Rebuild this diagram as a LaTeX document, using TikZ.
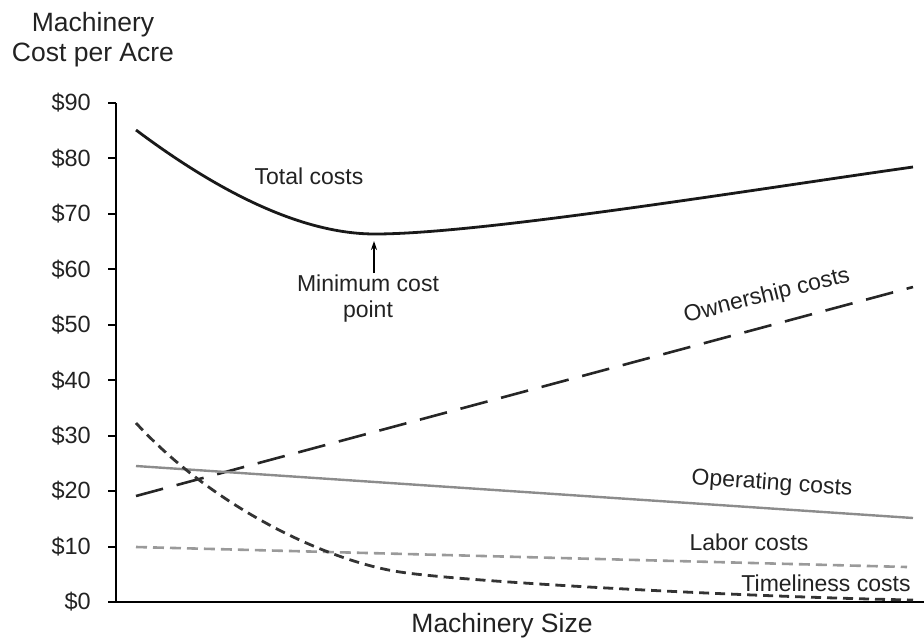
\documentclass[tikz,border=0pt]{standalone}
\usepackage{fontspec}
\setmainfont{Liberation Sans}
\usetikzlibrary{arrows.meta}
\definecolor{txt}{HTML}{222222}
\definecolor{opgray}{HTML}{8C8C8C}
\definecolor{labgray}{HTML}{9A9A9A}
\begin{document}
\begin{tikzpicture}[x=1pt,y=-1pt,
  axis/.style={line width=2pt,color=black},
  tick/.style={line width=2pt,color=black},
  ticklbl/.style={anchor=east,font=\fontsize{23.5}{26}\selectfont,text=txt,inner sep=0pt},
  lbl/.style={font=\fontsize{23}{26}\selectfont,text=txt,inner sep=0pt},
  title/.style={font=\fontsize{26.5}{30}\selectfont,text=txt,inner sep=0pt,align=center},
  curve/.style={line width=2.6pt,color=black!85,line cap=butt},
]
\useasboundingbox (0,0) rectangle (924,638);
% axes
\coordinate (o) at (116,602);
\coordinate (ytop) at (116,103);
\coordinate (xend) at (924,602);
\draw[axis] (ytop) -- (o) -- (xend);
% ticks and labels
\foreach \v [count=\i from 0] in {0,10,20,30,40,50,60,70,80,90} {
  \coordinate (t\i) at (116,{602-55.45*\i});
  \draw[tick] (t\i) -- ++(-8,0);
  \node[ticklbl] (tl\i) at ({91},{602-55.45*\i}) {\$\v};
}
% axis titles
\node[title] (ytitle) at (93,40) {Machinery\\Cost per Acre};
\node[title] (xtitle) at (502,626) {Machinery Size};
% total costs
\draw[curve,line width=2.8pt,black!90] (136,130) .. controls (216,190) and (300,234) .. (375,234)
  .. controls (480,234) and (750,190) .. (913,167);
% ownership
\draw[curve,dash pattern=on 28pt off 14pt] (136,496) -- (913,287);
% operating
\draw[line width=2.4pt,opgray] (136,466) -- (913,518);
% labor
\draw[line width=2.6pt,labgray,dash pattern=on 11pt off 6pt] (136,547) -- (907,567);
% timeliness
\draw[curve,line width=2.8pt,black!80,dash pattern=on 10pt off 6pt] (136,423) .. controls (216,510) and (330,561.5) .. (400,572)
  .. controls (470,582.5) and (750,597) .. (913,600);
% labels
\node[lbl] (ltotal) at (309,176) {Total costs};
\node[lbl,align=center] (lmin) at (368,299) {Minimum cost\\point};
\coordinate (mintip) at (374,241);
\draw[line width=1.5pt,-{Stealth[length=9pt,width=6pt]}] (lmin.north -| mintip) ++(0,-2) -- (mintip);
\node[lbl,rotate=14] (lown) at (767,296) {Ownership costs};
\node[lbl,rotate=-4] (lop) at (772,484) {Operating costs};
\node[lbl] (llab) at (749,542) {Labor costs};
\node[lbl] (ltime) at (826,583) {Timeliness costs};
\end{tikzpicture}
\end{document}
